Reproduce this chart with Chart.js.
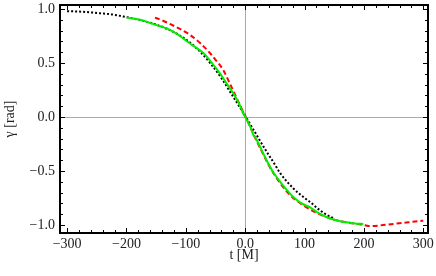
<!DOCTYPE html>
<html>
<head>
<meta charset="utf-8">
<script src="https://cdn.jsdelivr.net/npm/chart.js@4"></script>
<style>
html,body{margin:0;padding:0;background:#fff;}
</style>
</head>
<body>
<canvas id="c" width="436" height="276"></canvas>
<script>
// tick labels
var xTicks = [-300, -200, -100, 0, 100, 200, 300];
var yTicks = [-1.0, -0.5, 0.0, 0.5, 1.0];

// green solid
var greenT = [-200, -177, -160, -143, -126, -110, -93, -70, -59, -42, -30, -20, -10, -3, 0, 5, 10, 14, 17, 22, 28, 36, 47, 59, 70, 81, 95, 110, 121, 143, 160, 171, 185, 199];
var greenG = [0.92, 0.90, 0.87, 0.84, 0.805, 0.75, 0.68, 0.59, 0.52, 0.40, 0.30, 0.22, 0.12, 0.03, 0.0, -0.05, -0.11, -0.17, -0.19, -0.24, -0.31, -0.40, -0.51, -0.60, -0.675, -0.74, -0.80, -0.84, -0.88, -0.94, -0.965, -0.975, -0.985, -0.99];

// red dashed
var redT = [-152, -140, -126, -110, -93, -75, -59, -50, -37, -25, -14, -6, 0, 10, 20, 30, 40, 50, 60, 75, 100, 125, 150, 175, 200, 210, 225, 250, 275, 300];
var redG = [0.92, 0.895, 0.86, 0.815, 0.76, 0.68, 0.59, 0.53, 0.435, 0.30, 0.17, 0.08, 0.01, -0.11, -0.23, -0.34, -0.45, -0.54, -0.62, -0.72, -0.825, -0.90, -0.95, -0.98, -1.0, -1.01, -1.005, -0.99, -0.975, -0.96];

// black dotted
var blackT = [-300, -275, -244, -225, -205, -175, -150, -125, -98, -75, -59, -40, -25, 0, 25, 36, 50, 59, 81, 100, 110, 125, 146, 150];
var blackG = [0.98, 0.975, 0.96, 0.95, 0.93, 0.895, 0.855, 0.80, 0.71, 0.60, 0.50, 0.36, 0.23, 0.01, -0.22, -0.32, -0.44, -0.52, -0.66, -0.75, -0.79, -0.86, -0.93, -0.935];

function pts(t, g){
    var out = [];
    for(var i=0; i<t.length; i++) out.push({x:t[i], y:g[i]});
    return out;
}

function fmt(v){
    var s = Number.isInteger(v) && Math.abs(v) >= 100 ? String(Math.abs(v)) : Math.abs(v).toFixed(1);
    return (v < 0 ? '\u2212' : '') + s;
}

var font = {family:'"Liberation Serif", "DejaVu Serif", serif', size:14};

// frame + inward major/minor ticks on all four sides
var framePlugin = {
    id: 'frame',
    afterDraw: function(chart){
        var ctx = chart.ctx, a = chart.chartArea;
        var xs = chart.scales.x, ys = chart.scales.y;
        ctx.save();
        ctx.strokeStyle = '#000';
        ctx.lineWidth = 1;
        ctx.beginPath();
        for(var t=-300; t<=300; t+=20){
            var px = Math.round(xs.getPixelForValue(t)) + 0.5;
            var len = (t % 100 === 0) ? 5 : 3;
            ctx.moveTo(px, a.bottom); ctx.lineTo(px, a.bottom - len);
            ctx.moveTo(px, a.top); ctx.lineTo(px, a.top + len);
        }
        for(var k=-10; k<=10; k++){
            var v = k/10;
            var py = Math.round(ys.getPixelForValue(v)) + 0.5;
            var l2 = (k % 5 === 0) ? 5 : 3;
            ctx.moveTo(a.left, py); ctx.lineTo(a.left + l2, py);
            ctx.moveTo(a.right, py); ctx.lineTo(a.right - l2, py);
        }
        ctx.stroke();
        ctx.lineWidth = 2;
        ctx.strokeRect(a.left, a.top, a.right - a.left, a.bottom - a.top);
        ctx.restore();
    }
};

new Chart(document.getElementById('c'), {
    type: 'scatter',
    data: {
        datasets: [
            {data: pts(greenT, greenG), showLine:true, borderColor:'#00ee00', borderWidth:2, pointRadius:0, tension:0.3, cubicInterpolationMode:'monotone'},
            {data: pts(redT, redG), showLine:true, borderColor:'#ff0000', borderWidth:2, borderDash:[5,3], pointRadius:0, tension:0.3, cubicInterpolationMode:'monotone'},
            {data: pts(blackT, blackG), showLine:true, borderColor:'#000', borderWidth:2, borderDash:[2,2], pointRadius:0, tension:0.3, cubicInterpolationMode:'monotone'}
        ]
    },
    options: {
        responsive: false,
        animation: false,
        layout: {padding:{left:0, right:8, top:5, bottom:0}},
        plugins: {legend:{display:false}, tooltip:{enabled:false}},
        scales: {
            x: {
                type: 'linear', min: -312, max: 308,
                afterBuildTicks: function(s){ s.ticks = xTicks.map(function(v){return {value:v};}); },
                afterFit: function(s){ s.height = 43; s.paddingLeft = 0; s.paddingRight = 0; },
                ticks: {font:font, color:'#222', padding:3, maxRotation:0, callback:function(v){return fmt(v);}},
                grid: {drawTicks:false, lineWidth:1, color:function(c){ return c.tick && c.tick.value === 0 ? '#aaa' : 'rgba(0,0,0,0)'; }},
                border: {display:false},
                title: {display:true, text:'t [M]', font:font, color:'#222', padding:{top:0, bottom:12}}
            },
            y: {
                type: 'linear', min: -1.074, max: 1.037,
                afterBuildTicks: function(s){ s.ticks = yTicks.map(function(v){return {value:v};}); },
                afterFit: function(s){ s.width = 60; s.paddingTop = 0; s.paddingBottom = 0; },
                ticks: {font:font, color:'#222', padding:5, callback:function(v){return fmt(v);}},
                grid: {drawTicks:false, lineWidth:1, color:function(c){ return c.tick && c.tick.value === 0 ? '#aaa' : 'rgba(0,0,0,0)'; }},
                border: {display:false},
                title: {display:true, text:'\u03b3 [rad]', font:font, color:'#222', padding:{top:2, bottom:0}}
            }
        }
    },
    plugins: [framePlugin]
});
</script>
</body>
</html>
